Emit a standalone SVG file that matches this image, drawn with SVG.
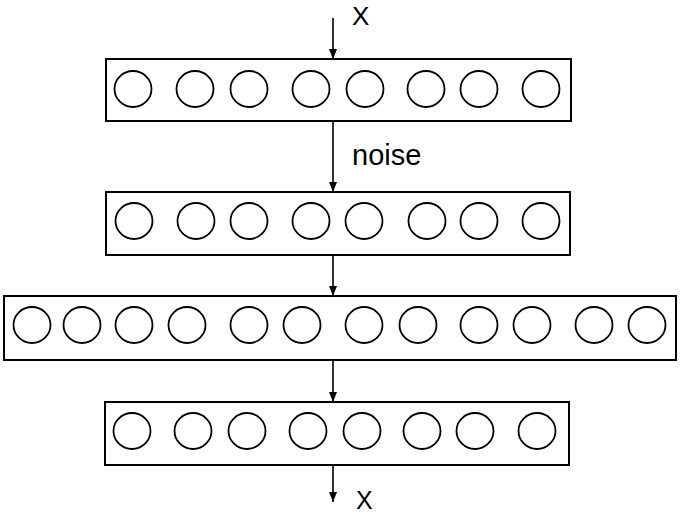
<svg xmlns="http://www.w3.org/2000/svg" width="685" height="516" viewBox="0 0 685 516">
<defs>
<style>
.box{fill:#fff;stroke:#000;stroke-width:2}
.u{fill:none;stroke:#000;stroke-width:1.8}
.c{stroke:#000;stroke-width:1.6;fill:none}
.t{font-family:"Liberation Sans",Arial,sans-serif;fill:#000}
</style>
<marker id="ah" viewBox="0 0 10 10" refX="10" refY="5" markerWidth="10" markerHeight="10" markerUnits="userSpaceOnUse" orient="auto">
<path d="M0,1 L10,5 L0,9 Z" fill="#000"/>
</marker>
</defs>
<rect width="685" height="516" fill="#fff"/>
<g id="layer1">
<rect class="box" x="106" y="59" width="465" height="62"/>
<g class="u">
<ellipse cx="133" cy="89" rx="18.5" ry="18"/>
<ellipse cx="195" cy="89" rx="18.5" ry="18"/>
<ellipse cx="249" cy="89" rx="18.5" ry="18"/>
<ellipse cx="311" cy="89" rx="18.5" ry="18"/>
<ellipse cx="365" cy="89" rx="18.5" ry="18"/>
<ellipse cx="426" cy="89" rx="18.5" ry="18"/>
<ellipse cx="479" cy="89" rx="18.5" ry="18"/>
<ellipse cx="541" cy="89" rx="18.5" ry="18"/>
</g>
</g>
<g id="layer2">
<rect class="box" x="106" y="192" width="464" height="63"/>
<g class="u">
<ellipse cx="134" cy="221" rx="18.5" ry="18"/>
<ellipse cx="196" cy="221" rx="18.5" ry="18"/>
<ellipse cx="249" cy="221" rx="18.5" ry="18"/>
<ellipse cx="311" cy="221" rx="18.5" ry="18"/>
<ellipse cx="364" cy="221" rx="18.5" ry="18"/>
<ellipse cx="427" cy="221" rx="18.5" ry="18"/>
<ellipse cx="479" cy="221" rx="18.5" ry="18"/>
<ellipse cx="541" cy="221" rx="18.5" ry="18"/>
</g>
</g>
<g id="layer3">
<rect class="box" x="4" y="296" width="672" height="64"/>
<g class="u">
<ellipse cx="32" cy="325" rx="18.5" ry="18"/>
<ellipse cx="82" cy="325" rx="18.5" ry="18"/>
<ellipse cx="134" cy="325" rx="18.5" ry="18"/>
<ellipse cx="187" cy="325" rx="18.5" ry="18"/>
<ellipse cx="249" cy="325" rx="18.5" ry="18"/>
<ellipse cx="302" cy="325" rx="18.5" ry="18"/>
<ellipse cx="364" cy="325" rx="18.5" ry="18"/>
<ellipse cx="418" cy="325" rx="18.5" ry="18"/>
<ellipse cx="479" cy="325" rx="18.5" ry="18"/>
<ellipse cx="532" cy="325" rx="18.5" ry="18"/>
<ellipse cx="594" cy="325" rx="18.5" ry="18"/>
<ellipse cx="647" cy="325" rx="18.5" ry="18"/>
</g>
</g>
<g id="layer4">
<rect class="box" x="105" y="402" width="464" height="63"/>
<g class="u">
<ellipse cx="132" cy="431" rx="18.5" ry="18"/>
<ellipse cx="193" cy="431" rx="18.5" ry="18"/>
<ellipse cx="247" cy="431" rx="18.5" ry="18"/>
<ellipse cx="308" cy="431" rx="18.5" ry="18"/>
<ellipse cx="362" cy="431" rx="18.5" ry="18"/>
<ellipse cx="422" cy="431" rx="18.5" ry="18"/>
<ellipse cx="475" cy="431" rx="18.5" ry="18"/>
<ellipse cx="537" cy="431" rx="18.5" ry="18"/>
</g>
</g>
<g id="connectors">
<line class="c" x1="333" y1="18" x2="333" y2="59" marker-end="url(#ah)"/>
<line class="c" x1="333" y1="121" x2="333" y2="192" marker-end="url(#ah)"/>
<line class="c" x1="333" y1="255" x2="333" y2="296" marker-end="url(#ah)"/>
<line class="c" x1="333" y1="360" x2="333" y2="402" marker-end="url(#ah)"/>
<line class="c" x1="333" y1="465" x2="333" y2="502" marker-end="url(#ah)"/>
</g>
<g id="labels">
<text class="t" x="352" y="25" font-size="26">X</text>
<text class="t" x="352" y="165" font-size="29">noise</text>
<text class="t" x="356" y="509" font-size="25">X</text>
</g>
</svg>
